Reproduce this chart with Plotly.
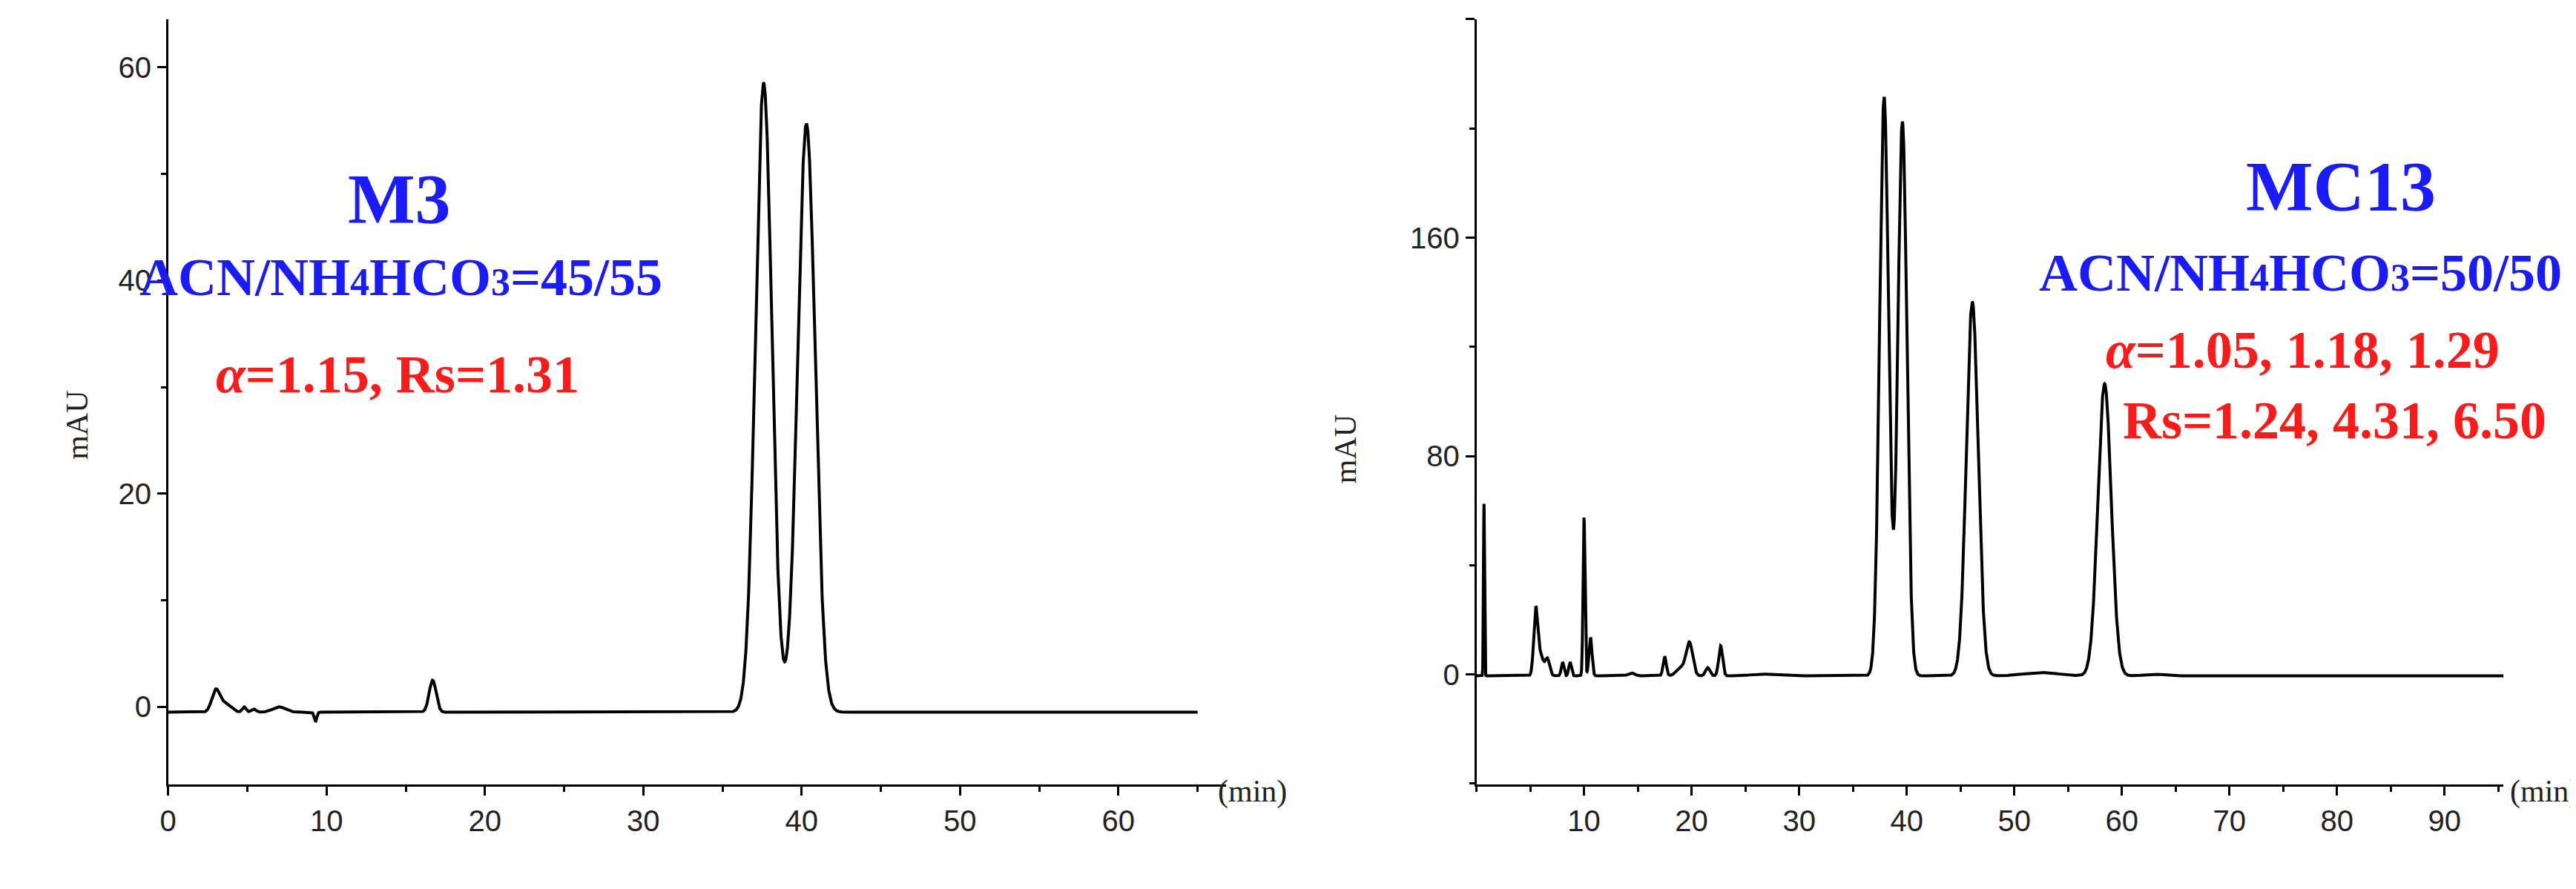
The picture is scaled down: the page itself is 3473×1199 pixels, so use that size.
import numpy as np
import plotly.graph_objects as go

# Peak tables (retention time min, height, sigma min)
m3_rt = [3.0, 3.6, 4.8, 5.4, 7.0, 9.3, 16.7, 37.6, 40.3]
m3_h = [2.0, 0.8, 0.5, 0.3, 0.5, -0.9, 3.0, 59.0, 55.2]
m3_w = [0.25, 0.35, 0.12, 0.15, 0.4, 0.08, 0.22, 0.52, 0.55]
m3_base = -0.5

mc_rt = [0.7, 5.5, 5.9, 6.6, 8.0, 8.7, 10.0, 10.6, 14.4, 17.5, 19.0, 19.8, 21.5, 22.7, 26.5, 37.9, 39.6, 46.1, 52.5, 58.4, 63.0]
mc_h = [63, 22, 8, 6, 5, 5, 58, 14, 1, 7, 3, 12, 3, 11, 0.6, 212, 203, 137, 1.2, 107, 0.6]
mc_w = [0.05, 0.18, 0.3, 0.2, 0.12, 0.12, 0.09, 0.14, 0.3, 0.15, 0.4, 0.3, 0.2, 0.18, 1.0, 0.42, 0.42, 0.55, 1.5, 0.62, 0.8]
mc_base = -0.5

def trace(rt, h, w, base, tmax):
    t = np.linspace(0, tmax, 6000)
    y = np.full_like(t, base)
    for r, a, s in zip(rt, h, w):
        y += a * np.exp(-0.5 * ((t - r) / s) ** 2)
    return t, y

t1, y1 = trace(m3_rt, m3_h, m3_w, m3_base, 65)
t2, y2 = trace(mc_rt, mc_h, mc_w, mc_base, 95.5)

fig = go.Figure()
fig.add_trace(go.Scatter(x=t1, y=y1, mode="lines", line=dict(color="black", width=4), xaxis="x", yaxis="y", showlegend=False))
fig.add_trace(go.Scatter(x=t2, y=y2, mode="lines", line=dict(color="black", width=4), xaxis="x2", yaxis="y2", showlegend=False))

tickf = dict(family="Liberation Sans", size=40, color="#222")
ax = dict(showgrid=False, zeroline=False, showline=True, linecolor="black", linewidth=2.5,
          ticks="outside", ticklen=12, tickwidth=2.5, tickcolor="black", tickfont=tickf,
          minor=dict(ticks="outside", ticklen=7, tickwidth=2.5, tickcolor="black"))

fig.update_layout(
    width=3473, height=1199, paper_bgcolor="white", plot_bgcolor="white",
    margin=dict(l=0, r=0, t=0, b=0),
    xaxis=dict(ax, domain=[0.060, 0.472], range=[0, 66.8], tickvals=[0, 10, 20, 30, 40, 50, 60], minor=dict(ax["minor"], dtick=5), anchor="y"),
    yaxis=dict(ax, domain=[0.124, 0.985], range=[-7.3, 64.5], tickvals=[0, 20, 40, 60], minor=dict(ax["minor"], dtick=10), anchor="x"),
    xaxis2=dict(ax, domain=[0.5695, 0.9695], range=[0, 95.5], tickvals=[10, 20, 30, 40, 50, 60, 70, 80, 90], minor=dict(ax["minor"], dtick=5), anchor="y2"),
    yaxis2=dict(ax, domain=[0.124, 0.985], range=[-40.4, 240], tickvals=[0, 80, 160, 240], minor=dict(ax["minor"], dtick=40), anchor="x2"),
)

serif = "Liberation Serif"
def ann(xr, yr, x, y, text, size, color, xa="center"):
    fig.add_annotation(xref=xr, yref=yr, x=x, y=y, text=text, showarrow=False,
                       font=dict(family=serif, size=size, color=color), xanchor=xa, yanchor="middle")

blue, red = "#1a1aff", "#ff1a1a"
s = lambda n: f"<span style='font-size:52px'>{n}</span>"
ann("x", "y", 14.6, 47.6, "<b>M3</b>", 96, blue)
ann("x", "y", 14.7, 40.3, f"<b>ACN/NH{s(4)}HCO{s(3)}=45/55</b>", 72, blue)
ann("x", "y", 14.5, 31.2, "<b><i>α</i>=1.15, Rs=1.31</b>", 72, red)
ann("x2", "y2", 80.4, 178.8, "<b>MC13</b>", 96, blue)
ann("x2", "y2", 76.6, 147, f"<b>ACN/NH{s(4)}HCO{s(3)}=50/50</b>", 72, blue)
ann("x2", "y2", 76.8, 118.8, "<b><i>α</i>=1.05, 1.18, 1.29</b>", 72, red)
ann("x2", "y2", 79.8, 93, "<b>Rs=1.24, 4.31, 6.50</b>", 72, red)

fig.add_annotation(xref="paper", yref="paper", x=1675/3473, y=1-1085/1199, text="(min)", showarrow=False, font=dict(family=serif, size=42, color="#222"), xanchor="center")
fig.add_annotation(xref="paper", yref="paper", x=3422/3473, y=1-1085/1199, text="(min)", showarrow=False, font=dict(family=serif, size=42, color="#222"), xanchor="center")
fig.add_annotation(xref="paper", yref="paper", x=60/3473, y=1-565/1199, text="mAU", textangle=-90, showarrow=False, font=dict(family=serif, size=42, color="#222"))
fig.add_annotation(xref="paper", yref="paper", x=1801/3473, y=1-598/1199, text="mAU", textangle=-90, showarrow=False, font=dict(family=serif, size=42, color="#222"))

fig.write_html("out.html")
